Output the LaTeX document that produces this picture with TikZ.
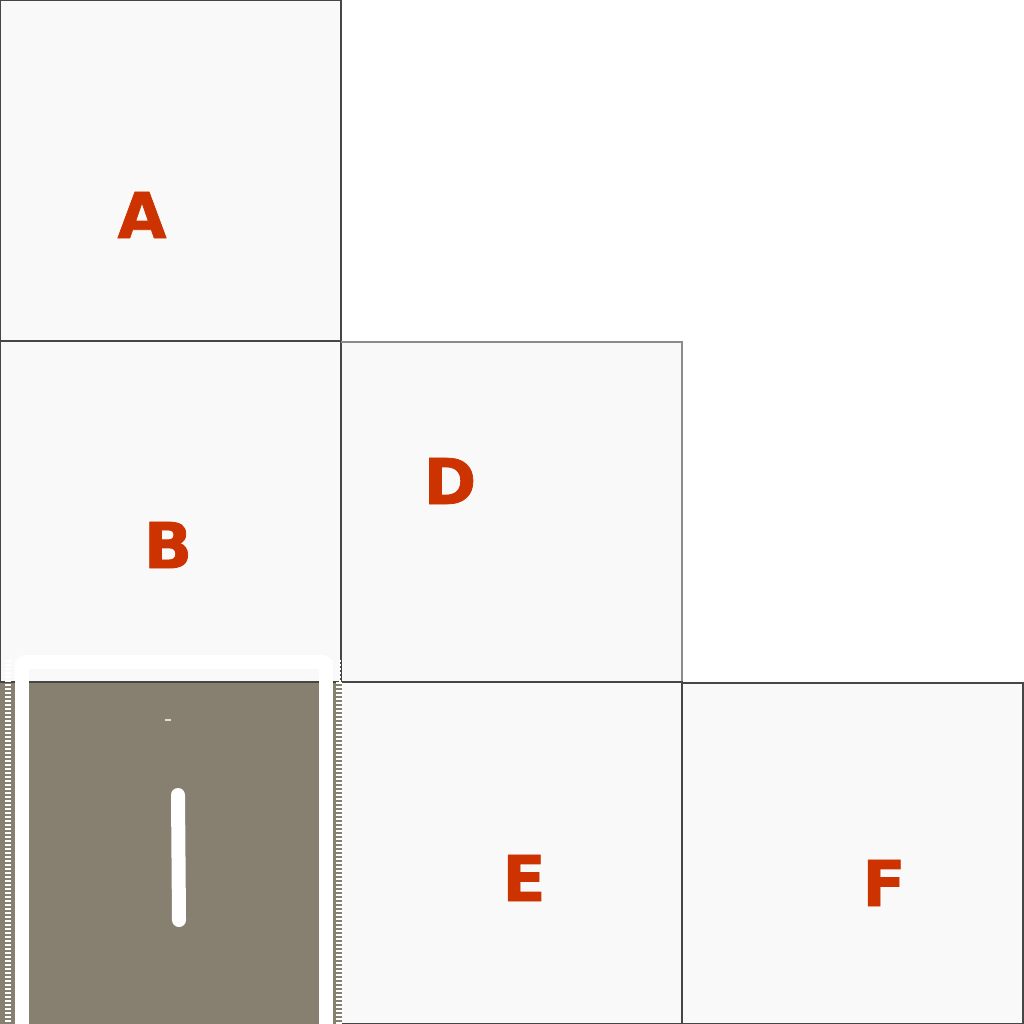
\documentclass[tikz,border=0pt]{standalone}
\usepackage{fontspec}
\setmainfont{DejaVu Sans}
\newfontfamily\heavyfont[FakeBold=1.2]{DejaVu Sans Bold}
\definecolor{cellfill}{RGB}{249,249,249}
\definecolor{lblred}{RGB}{204,51,0}
\definecolor{photo}{RGB}{135,127,112}
\definecolor{edge}{RGB}{70,70,70}
\begin{document}
\begin{tikzpicture}[x=0.01cm,y=-0.01cm,
  cell/.style={draw=edge, line width=0.35pt, fill=cellfill},
  softedge/.style={draw=black!45, line width=0.35pt},
  lbl/.style={text=lblred, font=\fontsize{18}{18}\selectfont\heavyfont, inner sep=0pt},
  ladder/.style={draw=white, line width=0.06cm, dash pattern=on 0.02cm off 0.02cm}]
\useasboundingbox (0,0) rectangle (1024,1024);
\fill[white] (0,0) rectangle (1024,1024);
% cells
\draw[cell] (0,0) rectangle (341,341);
\draw[cell] (0,341) rectangle (341,682);
\draw[cell] (341,342) rectangle (682,682);
\draw[softedge] (341,342) -- (682,342) -- (682,682);
\draw[cell] (341,682) rectangle (682,1024);
\draw[cell] (682,683) rectangle (1023,1024);
% photo cell
\fill[photo] (0,682) rectangle (342,1024);
\draw[edge, line width=0.35pt] (0,682) -- (342,682);
\fill[white, rounded corners=3] (15,655) rectangle (333,669);
\fill[white] (15,664) rectangle (29,1024);
\fill[white] (319,664) rectangle (333,1024);
\draw[ladder] (8,660) -- (8,1024);
\draw[ladder] (339,682) -- (339,1024);
\draw[white, line width=0.3pt, dash pattern=on 0.02cm off 0.02cm] (340,660) -- (340,682);
\draw[white!75!photo, line width=0.3pt] (165,720) -- (171,720);
\draw[white, line width=0.14cm, line cap=round] (178,795) -- (179,920);
% labels
\node[lbl] (A) at (142,215) {A};
\node[lbl] (B) at (168,545) {B};
\node[lbl] (D) at (450,481) {D};
\node[lbl] (E) at (524,878) {E};
\node[lbl] (F) at (884,883) {F};
\end{tikzpicture}
\end{document}
